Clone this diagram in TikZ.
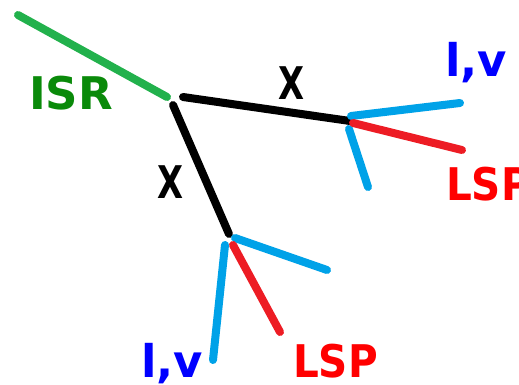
\documentclass[tikz,border=0pt]{standalone}
\usepackage{fontspec}
\setmainfont{DejaVu Sans}
\definecolor{isrline}{HTML}{22B14C}
\definecolor{isrtext}{HTML}{0A8A0A}
\definecolor{lightline}{HTML}{00A2E8}
\definecolor{lspline}{HTML}{ED1C24}
\definecolor{lsptext}{HTML}{FF0000}
\definecolor{lvtext}{HTML}{0000FF}
\tikzset{
  leg/.style={line width=8pt, line cap=round},
  lbl/.style={font=\bfseries\fontsize{45}{45}\selectfont, inner sep=0pt,
    text depth=0pt, anchor=base west},
}
\begin{document}
\begin{tikzpicture}[x=1pt,y=-1pt]
\useasboundingbox (0,0) rectangle (519,385);
\clip (0,0) rectangle (519,385);
% vertices and free ends
\coordinate (isrend) at (18,15);
\coordinate (top) at (170,99);
\coordinate (right) at (350,121);
\coordinate (down) at (229,234);
\coordinate (rlight) at (460,103);
\coordinate (rlsp) at (462,150);
\coordinate (rlow) at (368,187);
\coordinate (dlight) at (327,270);
\coordinate (dlow) at (213,360);
\coordinate (dlsp) at (280,332);
% initial state radiation
\draw[leg, isrline] (isrend) -- (167,97);
% intermediate legs
\draw[leg, black] (183,97) -- (right);
\draw[leg, black] (173,105) -- (down);
% decay products at the right vertex
\draw[leg, lightline] (351,116) -- (rlight);
\draw[leg, lightline] (349,129) -- (rlow);
\draw[leg, lspline] (353,123) -- (rlsp);
% decay products at the lower vertex
\draw[leg, lightline] (235,238) -- (dlight);
\draw[leg, lightline] (225,245) -- (dlow);
\draw[leg, lspline] (233,245) -- (dlsp);
% labels
\node[lbl, text=isrtext] (isr) at (29,110) {ISR};
\node[lbl, text=black, xscale=0.75] (xr) at (278,100) {X};
\node[lbl, text=black, xscale=0.75] (xl) at (157,198) {X};
\node[lbl, text=lvtext] (lvr) at (445,77) {l,v};
\node[lbl, text=lsptext, xscale=0.9] (lspr) at (446,200) {LSP};
\node[lbl, text=lvtext] (lvd) at (141,377) {l,v};
\node[lbl, text=lsptext, xscale=0.9] (lspd) at (293,377) {LSP};
\end{tikzpicture}
\end{document}
